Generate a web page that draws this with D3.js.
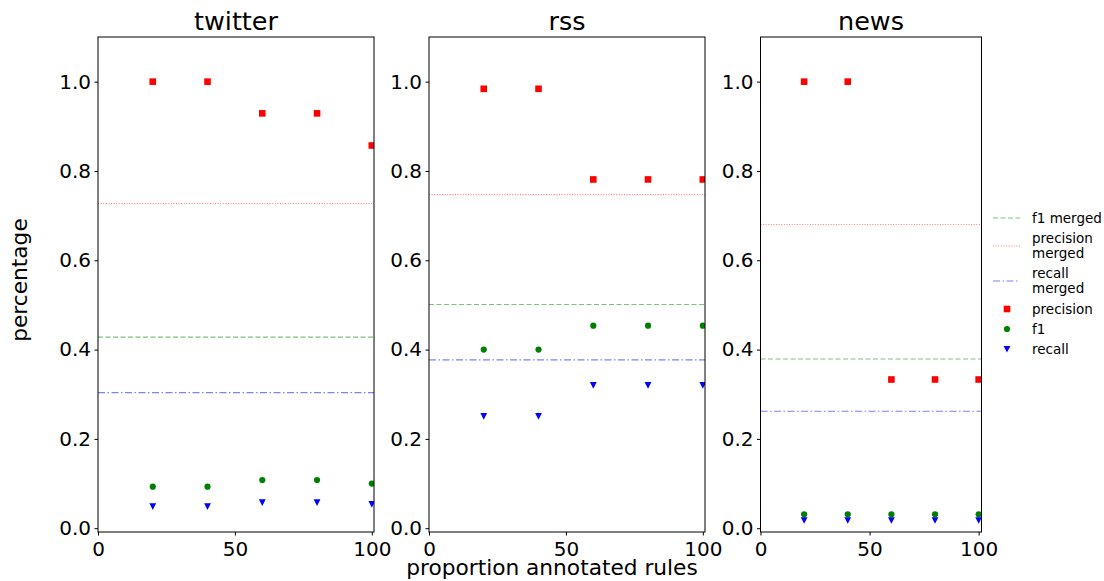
<!DOCTYPE html>
<html><head><meta charset="utf-8">
<script src="https://cdn.jsdelivr.net/npm/d3@7"></script>
<style>body{margin:0;background:#fff}svg text{font-family:"DejaVu Sans",sans-serif}</style>
</head><body><svg id="c" width="1104" height="581"></svg>
<script>
const panels = ["twitter", "rss", "news"];
const xValues = [20, 40, 60, 80, 100];
const precision = [[1.0, 1.0, 0.929, 0.929, 0.857], [0.984, 0.984, 0.781, 0.781, 0.781], [1.0, 1.0, 0.333, 0.333, 0.333]];
const f1 = [[0.093, 0.093, 0.108, 0.108, 0.10], [0.40, 0.40, 0.4535, 0.4535, 0.4535], [0.031, 0.031, 0.031, 0.031, 0.031]];
const recall = [[0.049, 0.049, 0.058, 0.058, 0.054], [0.251, 0.251, 0.3206, 0.3206, 0.3206], [0.018, 0.018, 0.018, 0.018, 0.018]];
const f1Merged = [0.428, 0.501, 0.379];
const precisionMerged = [0.727, 0.747, 0.680];
const recallMerged = [0.3036, 0.377, 0.262];
const xTicks = [0, 50, 100];
const yTicks = [0.0, 0.2, 0.4, 0.6, 0.8, 1.0];

const svg = d3.select("#c");
const boxes = [{l: 98, r: 374, xmax: 100.8}, {l: 429, r: 705, xmax: 100.8}, {l: 760.5, r: 981.5, xmax: 101.3}];
const plotTop = 37, plotBottom = 532;
const y = d3.scaleLinear().domain([-0.0085, 1.1]).range([plotBottom, plotTop]);

const lineStyles = {
  f1: {color: "rgba(0,128,0,0.5)", dash: "5,2.5"},
  precision: {color: "rgba(255,0,0,0.5)", dash: "1,1.6"},
  recall: {color: "rgba(0,0,255,0.5)", dash: "7,2.5,1.5,2.5"}
};

function drawMarker(g, type, cx, cy) {
  if (type === "precision") {
    g.append("rect").attr("x", cx - 3.3).attr("y", cy - 3.3).attr("width", 6.6).attr("height", 6.6).attr("fill", "#ff0000");
  } else if (type === "f1") {
    g.append("circle").attr("cx", cx).attr("cy", cy).attr("r", 3.1).attr("fill", "#008000");
  } else {
    g.append("path").attr("d", `M${cx-3.4},${cy-3}L${cx+3.4},${cy-3}L${cx},${cy+3.6}Z`).attr("fill", "#0000ff");
  }
}

panels.forEach((name, i) => {
  const b = boxes[i];
  const x = d3.scaleLinear().domain([0, b.xmax]).range([b.l, b.r]);
  const g = svg.append("g");
  const clipId = "clip" + i;
  svg.append("clipPath").attr("id", clipId).append("rect")
    .attr("x", b.l).attr("y", plotTop).attr("width", b.r - b.l).attr("height", plotBottom - plotTop);
  const inner = g.append("g").attr("clip-path", `url(#${clipId})`);

  const hl = (val, st) => inner.append("line").attr("x1", b.l).attr("x2", b.r)
    .attr("y1", y(val)).attr("y2", y(val)).attr("stroke", st.color).attr("stroke-width", 1.1)
    .attr("stroke-dasharray", st.dash);
  hl(f1Merged[i], lineStyles.f1);
  hl(precisionMerged[i], lineStyles.precision);
  hl(recallMerged[i], lineStyles.recall);

  xValues.forEach((xv, j) => drawMarker(inner, "precision", x(xv), y(precision[i][j])));
  xValues.forEach((xv, j) => drawMarker(inner, "f1", x(xv), y(f1[i][j])));
  xValues.forEach((xv, j) => drawMarker(inner, "recall", x(xv), y(recall[i][j])));

  g.append("rect").attr("x", b.l).attr("y", plotTop).attr("width", b.r - b.l).attr("height", plotBottom - plotTop)
    .attr("fill", "none").attr("stroke", "#000").attr("stroke-width", 1);

  const xa = g.append("g").attr("transform", `translate(0,${plotBottom})`)
    .call(d3.axisBottom(x).tickValues(xTicks).tickSize(3.5).tickPadding(6).tickFormat(d3.format("d")));
  xa.select(".domain").remove();
  xa.selectAll("text").attr("font-size", 20).attr("fill", "#000");
  const ya = g.append("g").attr("transform", `translate(${b.l},0)`)
    .call(d3.axisLeft(y).tickValues(yTicks).tickSize(3.5).tickPadding(3.5).tickFormat(d3.format(".1f")));
  ya.select(".domain").remove();
  ya.selectAll("text").attr("font-size", 20).attr("fill", "#000");

  g.append("text").attr("x", (b.l + b.r) / 2).attr("y", 30).attr("text-anchor", "middle")
    .attr("font-size", 25.5).text(name);
});

svg.append("text").attr("transform", "translate(27,280) rotate(-90)").attr("text-anchor", "middle")
  .attr("font-size", 21.7).text("percentage");
svg.append("text").attr("x", 552).attr("y", 575).attr("text-anchor", "middle")
  .attr("font-size", 21.7).text("proportion annotated rules");

// legend
const lg = svg.append("g");
const legendItems = [
  {kind: "line", st: lineStyles.f1, lines: ["f1 merged"], y: 218},
  {kind: "line", st: lineStyles.precision, lines: ["precision", "merged"], y: 246},
  {kind: "line", st: lineStyles.recall, lines: ["recall", "merged"], y: 281},
  {kind: "marker", type: "precision", lines: ["precision"], y: 309},
  {kind: "marker", type: "f1", lines: ["f1"], y: 329},
  {kind: "marker", type: "recall", lines: ["recall"], y: 349}
];
legendItems.forEach(it => {
  if (it.kind === "line") {
    lg.append("line").attr("x1", 993).attr("x2", 1020).attr("y1", it.y).attr("y2", it.y)
      .attr("stroke", it.st.color).attr("stroke-width", 1.1).attr("stroke-dasharray", it.st.dash);
  } else {
    drawMarker(lg, it.type, 1007, it.y);
  }
  const n = it.lines.length;
  it.lines.forEach((t, k) => {
    lg.append("text").attr("x", 1032).attr("y", it.y + (k - (n - 1) / 2) * 14.5)
      .attr("dy", "0.35em").attr("font-size", 13.5).text(t);
  });
});
</script></body></html>
